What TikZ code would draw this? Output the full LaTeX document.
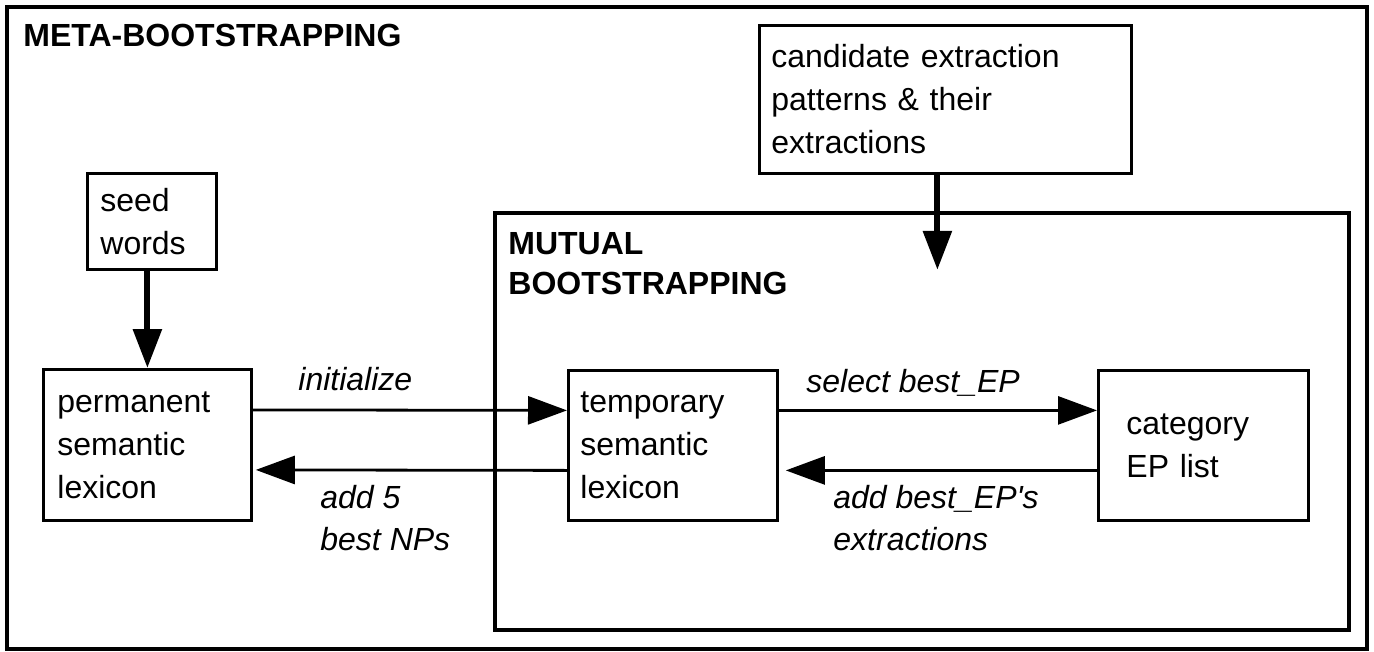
\documentclass[tikz,border=0pt]{standalone}
\usepackage{fontspec}
\setmainfont{Liberation Sans}[Ligatures=TeXOff]
\usetikzlibrary{arrows.meta,calc}

\tikzset{
  procbox/.style   = {draw, line width=1.4pt, align=left,
                      anchor=north west, inner ysep=0pt},
  title/.style     = {font=\fontsize{16pt}{20pt}\selectfont\bfseries,
                      align=left, inner sep=0pt},
  edgelabel/.style = {font=\fontsize{16pt}{21pt}\selectfont\itshape,
                      align=left, inner sep=0pt},
  frame/.style     = {draw, line width=1.6pt},
  flow/.style      = {draw, line width=1.4pt,
                      -{Triangle[length=19.5pt,width=14pt]}},
  bigflow/.style   = {flow, line width=3pt}
}

\begin{document}
\begin{tikzpicture}
[
  x=0.5pt, y=-0.5pt,
  every node/.style = {font=\fontsize{16pt}{21.5pt}\selectfont}
]
\useasboundingbox (0,0) rectangle (1374,652);

% outer and inner frames
\draw[frame] (7,7) rectangle (1367,649);
\draw[frame] (495,213) rectangle (1349,630);
\node[title, anchor=base west] (meta) at (23,47) {META-BOOTSTRAPPING};
\node[title, anchor=north west] (mutual) at (508,232) {MUTUAL\\BOOTSTRAPPING};

% boxes
\node[procbox, text width=51.5pt, inner xsep=6.5pt, minimum height=48pt]
  (seed) at (86,172) {seed\\words};
\node[procbox, text width=90pt, inner xsep=7pt, minimum height=75.5pt]
  (perm) at (42,368) {permanent\\semantic\\lexicon};
\node[procbox, text width=92.5pt, inner xsep=6pt, minimum height=75pt]
  (temp) at (567,369) {temporary\\semantic\\lexicon};
\node[procbox, text width=77pt, inner xsep=14pt, minimum height=75pt]
  (cat) at (1097,369) {category\\EP list};
\node[procbox, text width=174pt, inner xsep=6pt, minimum height=74pt]
  (cand) at (758,24) {candidate extraction\\patterns \& their\\extractions};

% labels
\node[edgelabel, anchor=base west] (init) at (298,390) {initialize};
\node[edgelabel, anchor=north west] (addnp) at (320,485) {add 5\\best NPs};
\node[edgelabel, anchor=base west] (selep) at (806,392) {select best\_EP};
\node[edgelabel, anchor=north west] (addep) at (833,485) {add best\_EP's\\extractions};

% arrows
\coordinate (candtip) at ($(cand.south)+(-8,95)$);
\draw[bigflow] (seed.south -| perm.north) -- (perm.north);
\draw[bigflow] (cand.south -| candtip) -- (candtip);
\draw[flow] ([yshift=17.5pt]perm.east) -- ([yshift=17.5pt]temp.west);
\draw[flow, shorten >=1.5pt] ([yshift=-12.5pt]temp.west) -- ([yshift=-12.5pt]perm.east);
\draw[flow] ([yshift=17.5pt]temp.east) -- ([yshift=17.5pt]cat.west);
\draw[flow, shorten >=3.5pt] ([yshift=-12.5pt]cat.west) -- ([yshift=-12.5pt]temp.east);
\end{tikzpicture}
\end{document}
